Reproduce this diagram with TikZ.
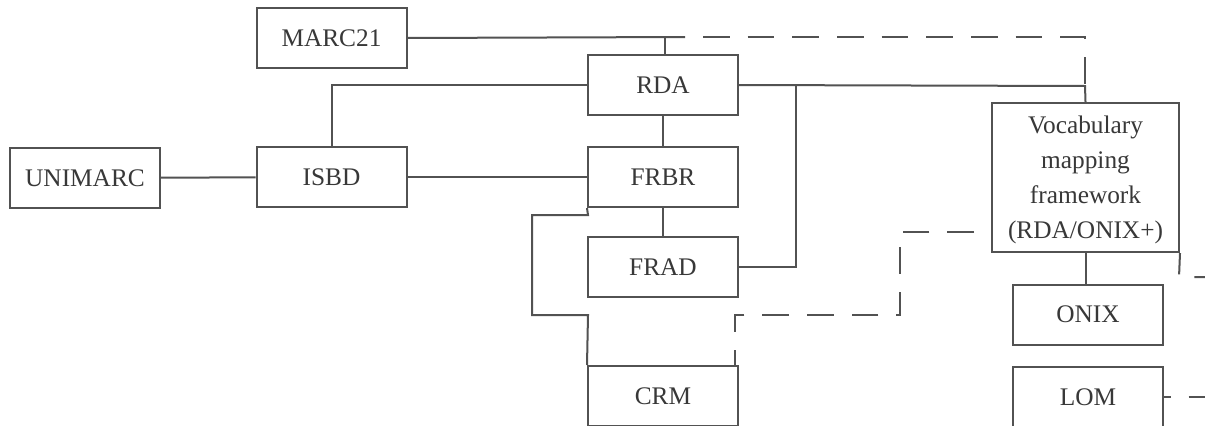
\documentclass[tikz,border=0pt]{standalone}
\usepackage{fontspec}
\setmainfont{Liberation Serif}
\begin{document}
\begin{tikzpicture}[x=0.75pt,y=-0.75pt,
  line width=1.5pt, draw=black!68,
  box/.style={draw=black!68, line width=1.5pt, fill=white, inner sep=0pt,
    minimum width=112.5pt, minimum height=45pt, text=black!78,
    font=\fontsize{19}{26.25}\selectfont},
  dashline/.style={dash pattern=on 20pt off 13.5pt}]
\clip (0,0) rectangle (1205,425);
\fill[white] (0,0) rectangle (1205,425);
% boxes
\node[box] (marc) at (331.5,38) {MARC21};
\node[box] (rda) at (663,85) {RDA};
\node[box] (uni) at (85,178) {UNIMARC};
\node[box] (isbd) at (331.5,177) {ISBD};
\node[box] (frbr) at (663,177) {FRBR};
\node[box] (frad) at (663,267) {FRAD};
\node[box] (crm) at (663,396) {CRM};
\node[box, minimum width=140.25pt, minimum height=111.75pt, align=center, text depth=0pt] (voc) at (1085.5,177.5)
  {Vocabulary\\mapping\\framework\\(RDA/ONIX+)};
\node[box] (onix) at (1088,314.5) {ONIX};
\node[box] (lom) at (1088,397) {LOM};
% coordinates
\coordinate (m0) at (665,37);
\coordinate (m1) at (685,37);
\coordinate (m2) at (1085,37);
\coordinate (m3) at (1085,86);
\coordinate (r1) at (1085,86);
\coordinate (j2) at (796,86);
\coordinate (b1) at (588,215);
\coordinate (b2) at (532,215);
\coordinate (b3) at (532,315);
\coordinate (b4) at (588,315);
\coordinate (d0) at (992,232);
\coordinate (d1) at (900,232);
\coordinate (d2) at (900,315);
\coordinate (d3) at (735,315);
\coordinate (d4) at (735,366);
\coordinate (e1) at (1179,277);
\coordinate (e2) at (1210,277);
\coordinate (l1) at (1210,397);
% solid connectors
\draw (marc.east) -- (m1);
\draw (rda.north -| m0) -- (m0);
\draw (rda.east) -- (r1) -- (voc.north);
\draw (rda.west) -| (isbd.north);
\draw (uni) -- (isbd);
\draw (isbd) -- (frbr);
\draw (rda) -- (frbr);
\draw (frbr) -- (frad);
\draw (frad.east) -| (j2);
\draw (frbr.south west) -- (b1) -- (b2) -- (b3) -- (b4) -- (crm.north west);
\draw (voc.south) -- (voc.south |- onix.north);
% dashed connectors
\draw[dashline, dash phase=20pt] (m1) -- (m2) -- (m3);
\draw[dashline, dash phase=20pt] (d0) -- (d1) -- (d2) -- (d3) -- (d4);
\draw[dashline, dash phase=4pt] (voc.south east) -- (e1) -- (e2);
\draw[dashline, dash phase=15pt] (lom.east) -- (l1);
\end{tikzpicture}
\end{document}
